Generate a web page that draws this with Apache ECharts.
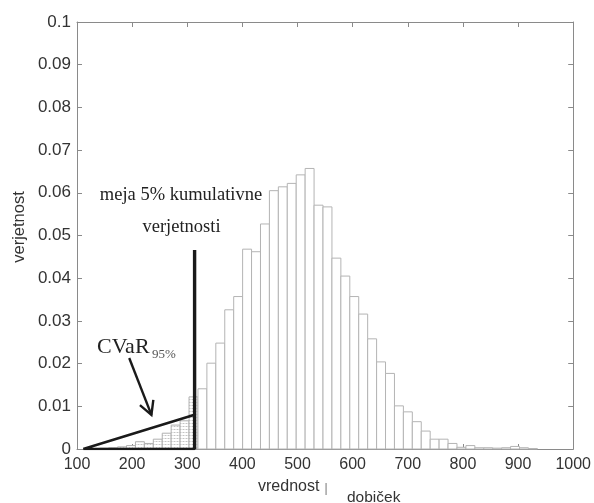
<!DOCTYPE html>
<html>
<head>
<meta charset="utf-8">
<script src="https://cdn.jsdelivr.net/npm/echarts@6/dist/echarts.min.js"></script>
<style>html,body{margin:0;padding:0;background:#fff;}#c{width:594px;height:503px;}</style>
</head>
<body>
<div id="c"></div>
<script>
// Histogram bin edges (value axis) and probabilities
const binEdges = [125, 141.2, 157.4, 173.6, 189.8, 206, 222.2, 238.4, 254.6, 270.8,
  287, 303.2, 319.4, 335.6, 351.8, 368, 384.2, 400.4, 416.6, 432.8,
  449, 465.2, 481.4, 497.6, 513.8, 530, 546.2, 562.4, 578.6, 594.8,
  611, 627.2, 643.4, 659.6, 675.8, 692, 708.2, 724.4, 740.6, 756.8,
  773, 789.2, 805.4, 821.6, 837.8, 854, 870.2, 886.4, 902.6, 918.8, 935];
const probabilities = [0.0001, 0.0002, 0.0003, 0.0005, 0.0008, 0.0017, 0.0013, 0.0023, 0.0037, 0.0056,
  0.0066, 0.0122, 0.0141, 0.0201, 0.0248, 0.0326, 0.0357, 0.0468, 0.0462, 0.0527,
  0.0605, 0.0614, 0.0622, 0.0642, 0.0657, 0.0571, 0.0567, 0.0447, 0.0405, 0.0357,
  0.0316, 0.0258, 0.0204, 0.0177, 0.0101, 0.0087, 0.0064, 0.0042, 0.0023, 0.0023,
  0.0013, 0.0004, 0.0008, 0.0003, 0.0003, 0.0002, 0.0003, 0.0006, 0.0003, 0.0001];
const tailBinCount = 12; // bins drawn hatched (left tail)
// Annotation geometry in data units
const cutoffX = 313.3;
const cutoffTop = 0.0466;
const triangleLeft = [111.4, 0];
const triangleTop = [313.3, 0.008];
const arrowStart = [194.7, 0.0213];
const arrowEnd = [235, 0.008];
const xTicks = {min: 100, max: 1000, step: 100};
const yTicks = {min: 0, max: 0.1, step: 0.01};

// dotted hatch pattern
const pc = document.createElement('canvas');
pc.width = 3; pc.height = 3;
const g = pc.getContext('2d');
g.fillStyle = '#ffffff'; g.fillRect(0, 0, 3, 3);
g.fillStyle = '#e4e4e4'; g.fillRect(0, 0, 3, 1);
g.fillStyle = '#c4c4c4'; g.fillRect(0, 0, 1, 1);

const histData = probabilities.map((p, i) => [binEdges[i], binEdges[i + 1], p, i]);

const axisColor = '#8a8a8a';
const labelFont = '"Liberation Sans", Arial, sans-serif';
const serif = '"Liberation Serif", "Times New Roman", serif';

const chart = echarts.init(document.getElementById('c'), null, {renderer: 'canvas'});
const xCommon = {
  type: 'value', min: xTicks.min, max: xTicks.max, interval: xTicks.step,
  axisLine: {show: true, onZero: false, lineStyle: {color: axisColor, width: 1}},
  axisTick: {show: true, inside: true, length: 5, lineStyle: {color: axisColor}},
  splitLine: {show: false}
};
const yCommon = {
  type: 'value', min: yTicks.min, max: yTicks.max, interval: yTicks.step,
  axisLine: {show: true, onZero: false, lineStyle: {color: axisColor, width: 1}},
  axisTick: {show: true, inside: true, length: 5, lineStyle: {color: axisColor}},
  splitLine: {show: false}
};
chart.setOption({
  animation: false,
  backgroundColor: '#ffffff',
  grid: {left: 77, right: 19, top: 22, bottom: 54, containLabel: false},
  xAxis: [
    Object.assign({}, xCommon, {position: 'bottom',
      axisLabel: {show: true, fontSize: 16, fontFamily: labelFont, color: '#333', margin: 8,
        formatter: v => String(Math.round(v))}}),
    Object.assign({}, xCommon, {position: 'top', axisLabel: {show: false}})
  ],
  yAxis: [
    Object.assign({}, yCommon, {position: 'left',
      axisLabel: {show: true, fontSize: 17, fontFamily: labelFont, color: '#333', margin: 6,
        formatter: v => v === 0 ? '0' : String(+v.toFixed(2))}}),
    Object.assign({}, yCommon, {position: 'right', axisLabel: {show: false}})
  ],
  series: [
    {
      type: 'custom', xAxisIndex: 0, yAxisIndex: 0,
      data: histData,
      encode: {x: [0, 1], y: 2},
      renderItem: function (params, api) {
        const p0 = api.coord([api.value(0), 0]);
        const p1 = api.coord([api.value(1), api.value(2)]);
        const tail = api.value(3) < tailBinCount;
        return {
          type: 'rect',
          shape: {x: p0[0], y: p1[1], width: p1[0] - p0[0], height: p0[1] - p1[1]},
          style: {
            fill: tail ? {image: pc, repeat: 'repeat'} : '#ffffff',
            stroke: tail ? '#b0b0b0' : '#b4b4b4', lineWidth: 1
          }
        };
      },
      z: 2
    },
    {
      type: 'line', xAxisIndex: 0, yAxisIndex: 0, symbol: 'none', z: 5,
      data: [triangleLeft, [triangleTop[0], 0], triangleTop, triangleLeft],
      lineStyle: {color: '#1a1a1a', width: 2.6}
    },
    {
      type: 'line', xAxisIndex: 0, yAxisIndex: 0, symbol: 'none', z: 6,
      data: [[cutoffX, 0], [cutoffX, cutoffTop]],
      lineStyle: {color: '#1a1a1a', width: 3.4}
    },
    {
      type: 'custom', xAxisIndex: 0, yAxisIndex: 0, z: 7,
      data: [[arrowStart[0], arrowStart[1], arrowEnd[0], arrowEnd[1]]],
      renderItem: function (params, api) {
        const a = api.coord([api.value(0), api.value(1)]);
        const b = api.coord([api.value(2), api.value(3)]);
        const ang = Math.atan2(b[1] - a[1], b[0] - a[0]);
        const L = 15, spread = 0.5;
        const w1 = [b[0] - L * Math.cos(ang - spread), b[1] - L * Math.sin(ang - spread)];
        const w2 = [b[0] - L * Math.cos(ang + spread), b[1] - L * Math.sin(ang + spread)];
        return {
          type: 'group',
          children: [
            {type: 'line', shape: {x1: a[0], y1: a[1], x2: b[0], y2: b[1]},
              style: {stroke: '#1a1a1a', lineWidth: 2.4}},
            {type: 'polyline', shape: {points: [w1, b, w2]},
              style: {stroke: '#1a1a1a', lineWidth: 2.4, fill: null}}
          ]
        };
      }
    }
  ],
  graphic: [
    {type: 'text', x: 181, y: 195, z: 10,
      style: {text: 'meja 5% kumulativne', font: '18.5px ' + serif, fill: '#222', textAlign: 'center', textVerticalAlign: 'middle'}},
    {type: 'text', x: 181.5, y: 227, z: 10,
      style: {text: 'verjetnosti', font: '18.5px ' + serif, fill: '#222', textAlign: 'center', textVerticalAlign: 'middle'}},
    {type: 'text', x: 97, y: 347, z: 10,
      style: {text: 'CVaR', font: '22px ' + serif, fill: '#222', textAlign: 'left', textVerticalAlign: 'middle'}},
    {type: 'text', x: 152, y: 355, z: 10,
      style: {text: '95%', font: '13px ' + serif, fill: '#555', textAlign: 'left', textVerticalAlign: 'middle'}},
    {type: 'text', x: 19, y: 227, rotation: Math.PI / 2, z: 10,
      style: {text: 'verjetnost', font: '16.5px ' + labelFont, fill: '#333', textAlign: 'center', textVerticalAlign: 'middle'}},
    {type: 'text', x: 258, y: 487, z: 10,
      style: {text: 'vrednost', font: '16px ' + labelFont, fill: '#333', textAlign: 'left', textVerticalAlign: 'middle'}},
    {type: 'text', x: 326, y: 489, z: 10,
      style: {text: '|', font: '12px ' + labelFont, fill: '#777', textAlign: 'center', textVerticalAlign: 'middle'}},
    {type: 'text', x: 347, y: 498, z: 10,
      style: {text: 'dobiček', font: '15.5px ' + labelFont, fill: '#333', textAlign: 'left', textVerticalAlign: 'middle'}}
  ]
});
</script>
</body>
</html>
